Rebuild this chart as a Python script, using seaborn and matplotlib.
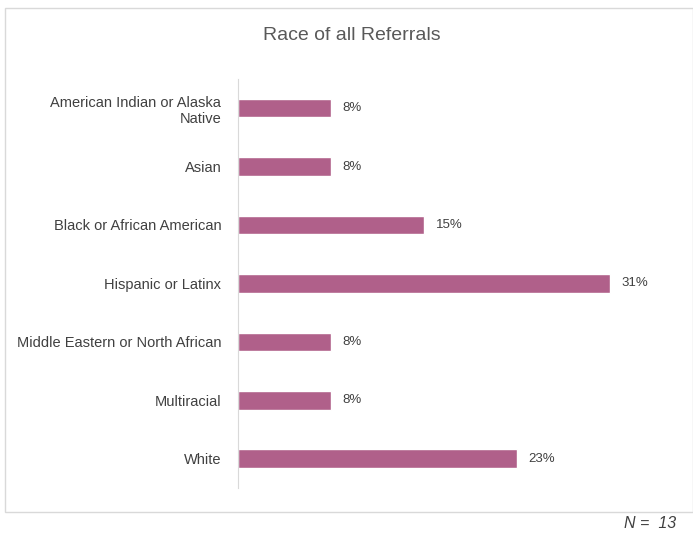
import matplotlib
matplotlib.use("Agg")
import matplotlib.pyplot as plt
import seaborn as sns
import pandas as pd
from matplotlib.patches import Rectangle

# Race of all referrals (percent of N = 13)
categories = ["American Indian or Alaska\nNative", "Asian", "Black or African American",
              "Hispanic or Latinx", "Middle Eastern or North African", "Multiracial", "White"]
percents = [7.7, 7.7, 15.4, 30.8, 7.7, 7.7, 23.1]
labels = ["8%", "8%", "15%", "31%", "8%", "8%", "23%"]

df = pd.DataFrame({"race": categories, "pct": percents})

sns.set_style("white")
plt.rcParams['font.family'] = ['Liberation Sans', 'DejaVu Sans']

fig = plt.figure(figsize=(6.93, 5.37), dpi=100)
ax = fig.add_axes([0.3434, 0.0912, 0.6106, 0.762])

sns.barplot(data=df, x="pct", y="race", color="#B0608A", saturation=1, width=0.32, ax=ax)

for i, (v, t) in enumerate(zip(percents, labels)):
    ax.text(v + 0.95, i, t, va="center", ha="left", fontsize=9.5, color="#404040")

ax.set_xlim(0, 35)
ax.set_xlabel("")
ax.set_ylabel("")
ax.set_xticks([])
ax.tick_params(axis="y", length=0, labelsize=10.5, labelcolor="#404040", pad=12)
for s in ["top", "right", "bottom"]:
    ax.spines[s].set_visible(False)
ax.spines["left"].set_color("#d9d9d9")

# outer chart frame
fig.patches.append(Rectangle((5 / 693, 1 - 512 / 537), 688 / 693, 504 / 537,
                             transform=fig.transFigure, fill=False, edgecolor="#d9d9d9", lw=1))

fig.text(352 / 693, 1 - 36 / 537, "Race of all Referrals", ha="center", va="center",
         fontsize=14, color="#595959")
fig.text(0.976, 1 - 524 / 537, "N =  13", ha="right", va="center", fontsize=11.5,
         style="italic", color="#404040")

fig.savefig("out.png", dpi=100)
